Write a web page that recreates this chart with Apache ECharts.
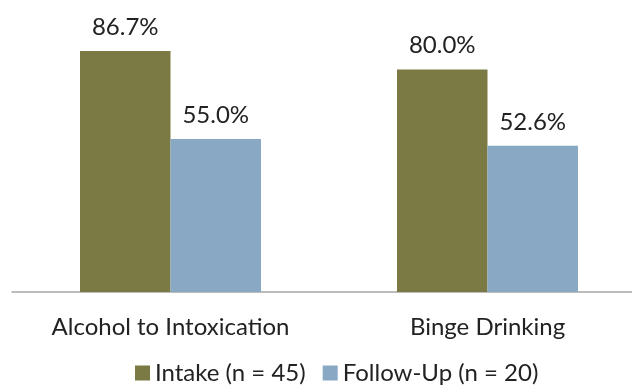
<!DOCTYPE html>
<html>
<head>
<meta charset="utf-8">
<script src="https://cdn.jsdelivr.net/npm/echarts@6/dist/echarts.min.js"></script>
<style>
  html, body { margin: 0; padding: 0; background: #ffffff; }
  #chart { width: 632px; height: 388px; }
</style>
</head>
<body>
<div id="chart"></div>
<script>
// Drinking outcomes at intake and follow-up (percent of respondents)
const categories = ['Alcohol to Intoxication', 'Binge Drinking'];
const intakeValues = [86.7, 80.0];
const followUpValues = [55.0, 52.6];
const seriesNames = ['Intake (n = 45)', 'Follow-Up (n = 20)'];

const FONT = 'Lato, "Open Sans", sans-serif';
const chart = echarts.init(document.getElementById('chart'), null, { renderer: 'canvas' });

const labelStyle = {
  show: true,
  position: 'top',
  distance: 12,
  fontFamily: FONT,
  fontSize: 24,
  color: '#222222',
  formatter: p => p.value.toFixed(1) + '%'
};

chart.setOption({
  backgroundColor: '#ffffff',
  animation: false,
  grid: { left: 12, right: -14, top: 14, bottom: 96, outerBoundsMode: 'none', containLabel: false },
  legend: {
    data: seriesNames,
    left: 130,
    top: 356,
    icon: 'rect',
    itemWidth: 15,
    itemHeight: 15,
    itemGap: 17,
    textStyle: { fontFamily: FONT, fontSize: 24, color: '#222222', padding: [0, 0, 0, 0] }
  },
  xAxis: {
    type: 'category',
    data: categories,
    axisLine: { lineStyle: { color: '#a6a6a6', width: 1.5 } },
    axisTick: { show: false },
    axisLabel: { fontFamily: FONT, fontSize: 24, color: '#222222', margin: 23 }
  },
  yAxis: {
    type: 'value',
    min: 0,
    max: 100,
    show: false,
    splitLine: { show: false }
  },
  series: [
    {
      name: seriesNames[0],
      type: 'bar',
      data: intakeValues,
      barWidth: 90.5,
      barGap: '0%',
      itemStyle: { color: '#7b7a45' },
      label: labelStyle
    },
    {
      name: seriesNames[1],
      type: 'bar',
      data: followUpValues,
      barWidth: 90.5,
      barGap: '0%',
      itemStyle: { color: '#88a8c4' },
      label: labelStyle
    }
  ]
});
</script>
</body>
</html>
